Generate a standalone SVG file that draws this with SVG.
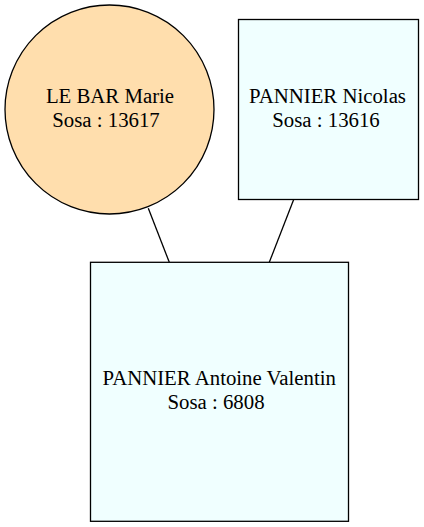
<svg xmlns="http://www.w3.org/2000/svg" width="424" height="527" viewBox="0 0 424 527">
<style>
.t{font-family:"Liberation Serif","Times New Roman",serif;font-size:20.8px;text-anchor:middle;fill:#000}
.n{stroke:#000;stroke-width:1.3}
.e{stroke:#000;stroke-width:1.3;fill:none}
</style>
<rect width="424" height="527" fill="#fff"/>
<g id="edges">
<line class="e" x1="148.3" y1="208.3" x2="169.3" y2="262.3"/>
<line class="e" x1="293.7" y1="199.5" x2="269.3" y2="262.3"/>
</g>
<g id="node-lebar">
<circle class="n" cx="109.5" cy="109.5" r="104.5" fill="#FFDEAD"/>
<text class="t" x="110" y="103">LE BAR Marie</text>
<text class="t" x="106" y="127">Sosa : 13617</text>
</g>
<g id="node-nicolas">
<rect class="n" x="238.5" y="19.5" width="180" height="180" fill="#F0FFFF"/>
<text class="t" x="327.5" y="103">PANNIER Nicolas</text>
<text class="t" x="326" y="127">Sosa : 13616</text>
</g>
<g id="node-antoine">
<rect class="n" x="90.5" y="262.3" width="258" height="259" fill="#F0FFFF"/>
<text class="t" x="219.2" y="385">PANNIER Antoine Valentin</text>
<text class="t" x="216" y="409">Sosa : 6808</text>
</g>
</svg>
